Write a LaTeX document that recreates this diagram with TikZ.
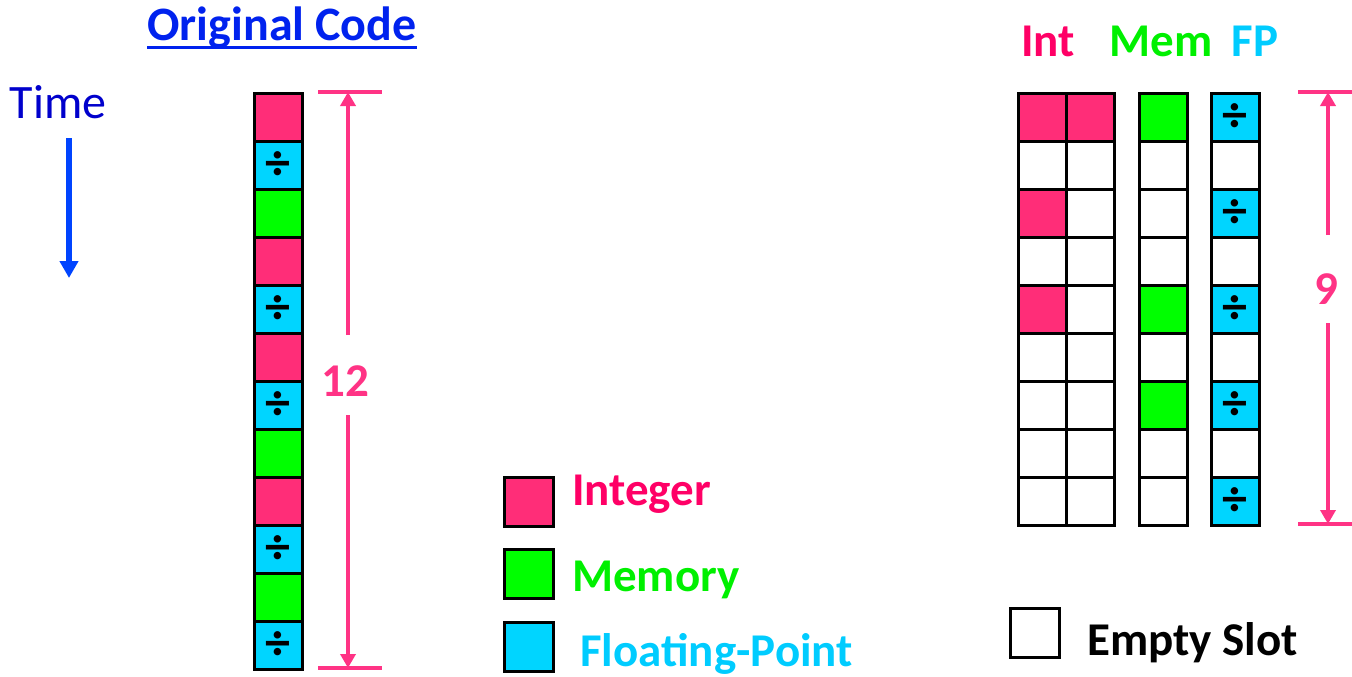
\documentclass[tikz,border=0pt]{standalone}
\usepackage{fontspec}
\setmainfont{Carlito}
\usetikzlibrary{arrows.meta}
\definecolor{intfill}{HTML}{FF2D78}
\definecolor{memfill}{HTML}{00FF00}
\definecolor{fpfill}{HTML}{00D5FF}
\definecolor{inttext}{HTML}{FF0066}
\definecolor{memtext}{HTML}{00F000}
\definecolor{fptext}{HTML}{00CCFF}
\definecolor{measure}{HTML}{FF3385}
\definecolor{titleblue}{HTML}{0022EE}
\definecolor{timeblue}{HTML}{0000CC}
\definecolor{arrowblue}{HTML}{0044FF}
\newcommand{\dv}{\raisebox{-6pt}{\fontsize{50}{50}\selectfont\bfseries ÷}}
\begin{document}
\begin{tikzpicture}[x=1pt,y=-1pt,
  cell/.style={draw=black, line width=2.5pt, minimum size=48pt, inner sep=0pt, anchor=north west, fill=white},
  celli/.style={cell, fill=intfill},
  cellm/.style={cell, fill=memfill},
  cellf/.style={cell, fill=fpfill},
  celle/.style={cell},
  big/.style={font=\fontsize{47}{48}\selectfont\bfseries, inner sep=0pt},
  measureline/.style={draw=measure, line width=3.5pt},
  measurearrow/.style={draw=measure, line width=3.5pt, -{Triangle[width=15pt,length=14pt]}},
  numlab/.style={big, text=measure},
]
\useasboundingbox (0,0) rectangle (1352,677);

% title and time
\node[big, text=titleblue, font=\fontsize{48}{50}\selectfont\bfseries, anchor=base] (title) at (282,41) {Original Code};
\draw[titleblue, line width=3pt] ([yshift=-7pt]title.base west) -- ([yshift=-7pt]title.base east);
\node[inner sep=0pt, text=timeblue, font=\fontsize{48}{48}\selectfont, anchor=base] (time) at (58,118) {Time};
\coordinate (timestart) at (69,138);
\coordinate (timeend) at (69,278);
\draw[arrowblue, line width=6pt, -{Triangle[width=18pt,length=17pt]}] (timestart) -- (timeend);

% left column
\foreach \t [count=\i from 0] in {i,f,m,i,f,i,f,m,i,f,m,f}{
  \node[cell\t] (L\i) at (253,{92+48*\i}) {\if f\t\dv\fi};
}

% measure 12
\coordinate (m12t) at (348,92);
\coordinate (m12b) at (348,668);
\coordinate (m12tl) at (318,92);
\coordinate (m12tr) at (382,92);
\coordinate (m12bl) at (318,668);
\coordinate (m12br) at (382,668);
\coordinate (m12ga) at (348,335);
\coordinate (m12gb) at (348,415);
\draw[measureline] (m12tl) -- (m12tr);
\draw[measureline] (m12bl) -- (m12br);
\draw[measurearrow] (m12ga) -- (m12t);
\draw[measurearrow] (m12gb) -- (m12b);
\node[numlab] (n12) at (345,381) {12};

% legend
\node[celli, minimum size=49pt] (legi) at (503,476) {};
\node[cellm, minimum size=49pt] (legm) at (503,548) {};
\node[cellf, minimum size=49pt] (legf) at (503,621) {};
\node[big, text=inttext, anchor=base west] (tint) at (572,505) {Integer};
\node[big, text=memtext, anchor=base west] (tmem) at (572,591) {Memory};
\node[big, text=fptext, anchor=base west] (tfp) at (580,666) {Floating-Point};

% right grid headers
\node[big, text=inttext, anchor=base] (hint) at (1048,57) {Int};
\node[big, text=memtext, anchor=base] (hmem) at (1161,57) {Mem};
\node[big, text=fptext, anchor=base] (hfp) at (1255,57) {FP};

% right grid
\foreach \t [count=\i from 0] in {i,e,i,e,i,e,e,e,e}{
  \node[cell\t] (A\i) at (1017,{92+48*\i}) {};
}
\foreach \t [count=\i from 0] in {i,e,e,e,e,e,e,e,e}{
  \node[cell\t] (B\i) at (1065,{92+48*\i}) {};
}
\foreach \t [count=\i from 0] in {m,e,e,e,m,e,m,e,e}{
  \node[cell\t] (M\i) at (1138,{92+48*\i}) {};
}
\foreach \t [count=\i from 0] in {f,e,f,e,f,e,f,e,f}{
  \node[cell\t] (F\i) at (1210,{92+48*\i}) {\if f\t\dv\fi};
}

% measure 9
\coordinate (m9t) at (1328,92);
\coordinate (m9b) at (1328,524);
\coordinate (m9tl) at (1298,92);
\coordinate (m9tr) at (1360,92);
\coordinate (m9bl) at (1298,524);
\coordinate (m9br) at (1360,524);
\coordinate (m9ga) at (1328,235);
\coordinate (m9gb) at (1328,323);
\draw[measureline] (m9tl) -- (m9tr);
\draw[measureline] (m9bl) -- (m9br);
\draw[measurearrow] (m9ga) -- (m9t);
\draw[measurearrow] (m9gb) -- (m9b);
\node[numlab] (n9) at (1326,289) {9};

% empty slot legend
\node[celle, minimum size=49pt] (lege) at (1009,607) {};
\node[big, text=black, anchor=base west] (tempty) at (1087,655) {Empty Slot};
\end{tikzpicture}
\end{document}
